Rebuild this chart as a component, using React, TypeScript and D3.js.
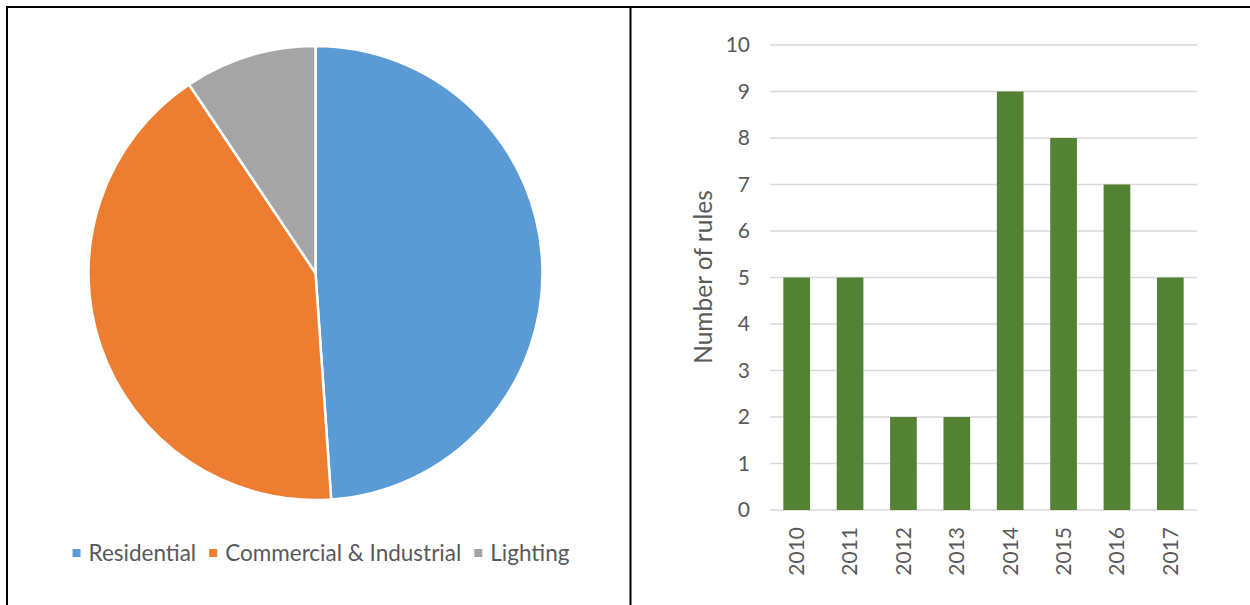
import React, { useEffect, useRef } from "react";
import * as d3 from "d3";

const sectorNames = ["Residential", "Commercial & Industrial", "Lighting"];
const sectorShares = [48.9, 41.7, 9.4];
const sectorColors = ["#5B9BD5", "#ED7D31", "#A5A5A5"];

const years = ["2010", "2011", "2012", "2013", "2014", "2015", "2016", "2017"];
const ruleCounts = [5, 5, 2, 2, 9, 8, 7, 5];
const yTicks = [0, 1, 2, 3, 4, 5, 6, 7, 8, 9, 10];

const FONT = "Lato, 'Noto Sans', sans-serif";
const TEXT = "#595959";

export default function App() {
  const ref = useRef<SVGSVGElement | null>(null);

  useEffect(() => {
    const svg = d3.select(ref.current);
    svg.selectAll("*").remove();

    // frame
    const frame = svg.append("g").attr("stroke", "#000").attr("stroke-width", 2);
    frame.append("line").attr("x1", 6).attr("x2", 1250).attr("y1", 7).attr("y2", 7);
    frame.append("line").attr("x1", 7).attr("x2", 7).attr("y1", 6).attr("y2", 605);
    frame.append("line").attr("x1", 630.5).attr("x2", 630.5).attr("y1", 6).attr("y2", 605);

    // pie
    const cx = 315.5, cy = 273, r = 227;
    const pie = d3.pie<number>().sort(null).value((d) => d);
    const arc = d3.arc<d3.PieArcDatum<number>>().innerRadius(0).outerRadius(r);
    const pg = svg.append("g").attr("transform", `translate(${cx},${cy})`);
    pg.selectAll("path")
      .data(pie(sectorShares))
      .join("path")
      .attr("d", arc as any)
      .attr("fill", (_d, i) => sectorColors[i])
      .attr("stroke", "#fff")
      .attr("stroke-width", 2.5)
      .attr("stroke-linejoin", "round");

    // legend
    const lg = svg.append("g").attr("font-family", FONT).attr("font-size", 22.5).attr("fill", TEXT);
    const items = lg.selectAll("g").data(sectorNames).join("g");
    items.append("rect").attr("width", 8).attr("height", 8).attr("y", -4)
      .attr("fill", (_d, i) => sectorColors[i]);
    items.append("text").attr("x", 16).attr("dy", "0.35em").text((d) => d);
    let x = 0;
    const widths: number[] = [];
    items.each(function () {
      const t = d3.select(this).select("text").node() as SVGTextElement;
      widths.push(16 + t.getComputedTextLength());
    });
    const gap = 13;
    const total = d3.sum(widths) + gap * (widths.length - 1);
    x = 321 - total / 2;
    items.attr("transform", (_d, i) => {
      const tx = x;
      x += widths[i] + gap;
      return `translate(${tx},553)`;
    });

    // bar chart
    const xs = d3.scaleBand<string>().domain(years).range([770, 1197]).paddingInner(0.5).paddingOuter(0.25);
    const ys = d3.scaleLinear().domain([0, 10]).range([510, 45]);

    const grid = svg.append("g");
    grid.selectAll("line").data(yTicks).join("line")
      .attr("x1", 770).attr("x2", 1197)
      .attr("y1", (d) => ys(d)).attr("y2", (d) => ys(d))
      .attr("stroke", "#D9D9D9").attr("stroke-width", 1.3);

    svg.append("g").selectAll("rect").data(ruleCounts).join("rect")
      .attr("x", (_d, i) => xs(years[i])!)
      .attr("width", xs.bandwidth())
      .attr("y", (d) => ys(d))
      .attr("height", (d) => ys(0) - ys(d))
      .attr("fill", "#548235");

    const yl = svg.append("g").attr("font-family", FONT).attr("font-size", 21).attr("fill", TEXT);
    yl.selectAll("text").data(yTicks).join("text")
      .attr("x", 750).attr("y", (d) => ys(d)).attr("dy", "0.35em")
      .attr("text-anchor", "end").text((d) => d);

    const xl = svg.append("g").attr("font-family", FONT).attr("font-size", 21).attr("fill", TEXT);
    xl.selectAll("text").data(years).join("text")
      .attr("transform", (d) => `translate(${xs(d)! + xs.bandwidth() / 2},527) rotate(-90)`)
      .attr("text-anchor", "end").attr("dy", "0.35em").text((d) => d);

    svg.append("text")
      .attr("transform", `translate(703,277) rotate(-90)`)
      .attr("text-anchor", "middle").attr("dy", "0.35em")
      .attr("font-family", FONT).attr("font-size", 24.5).attr("fill", TEXT)
      .text("Number of rules");
  }, []);

  return (
    <svg
      ref={ref}
      width={1250}
      height={605}
      style={{ position: "absolute", left: 0, top: 0, background: "#fff" }}
    />
  );
}
